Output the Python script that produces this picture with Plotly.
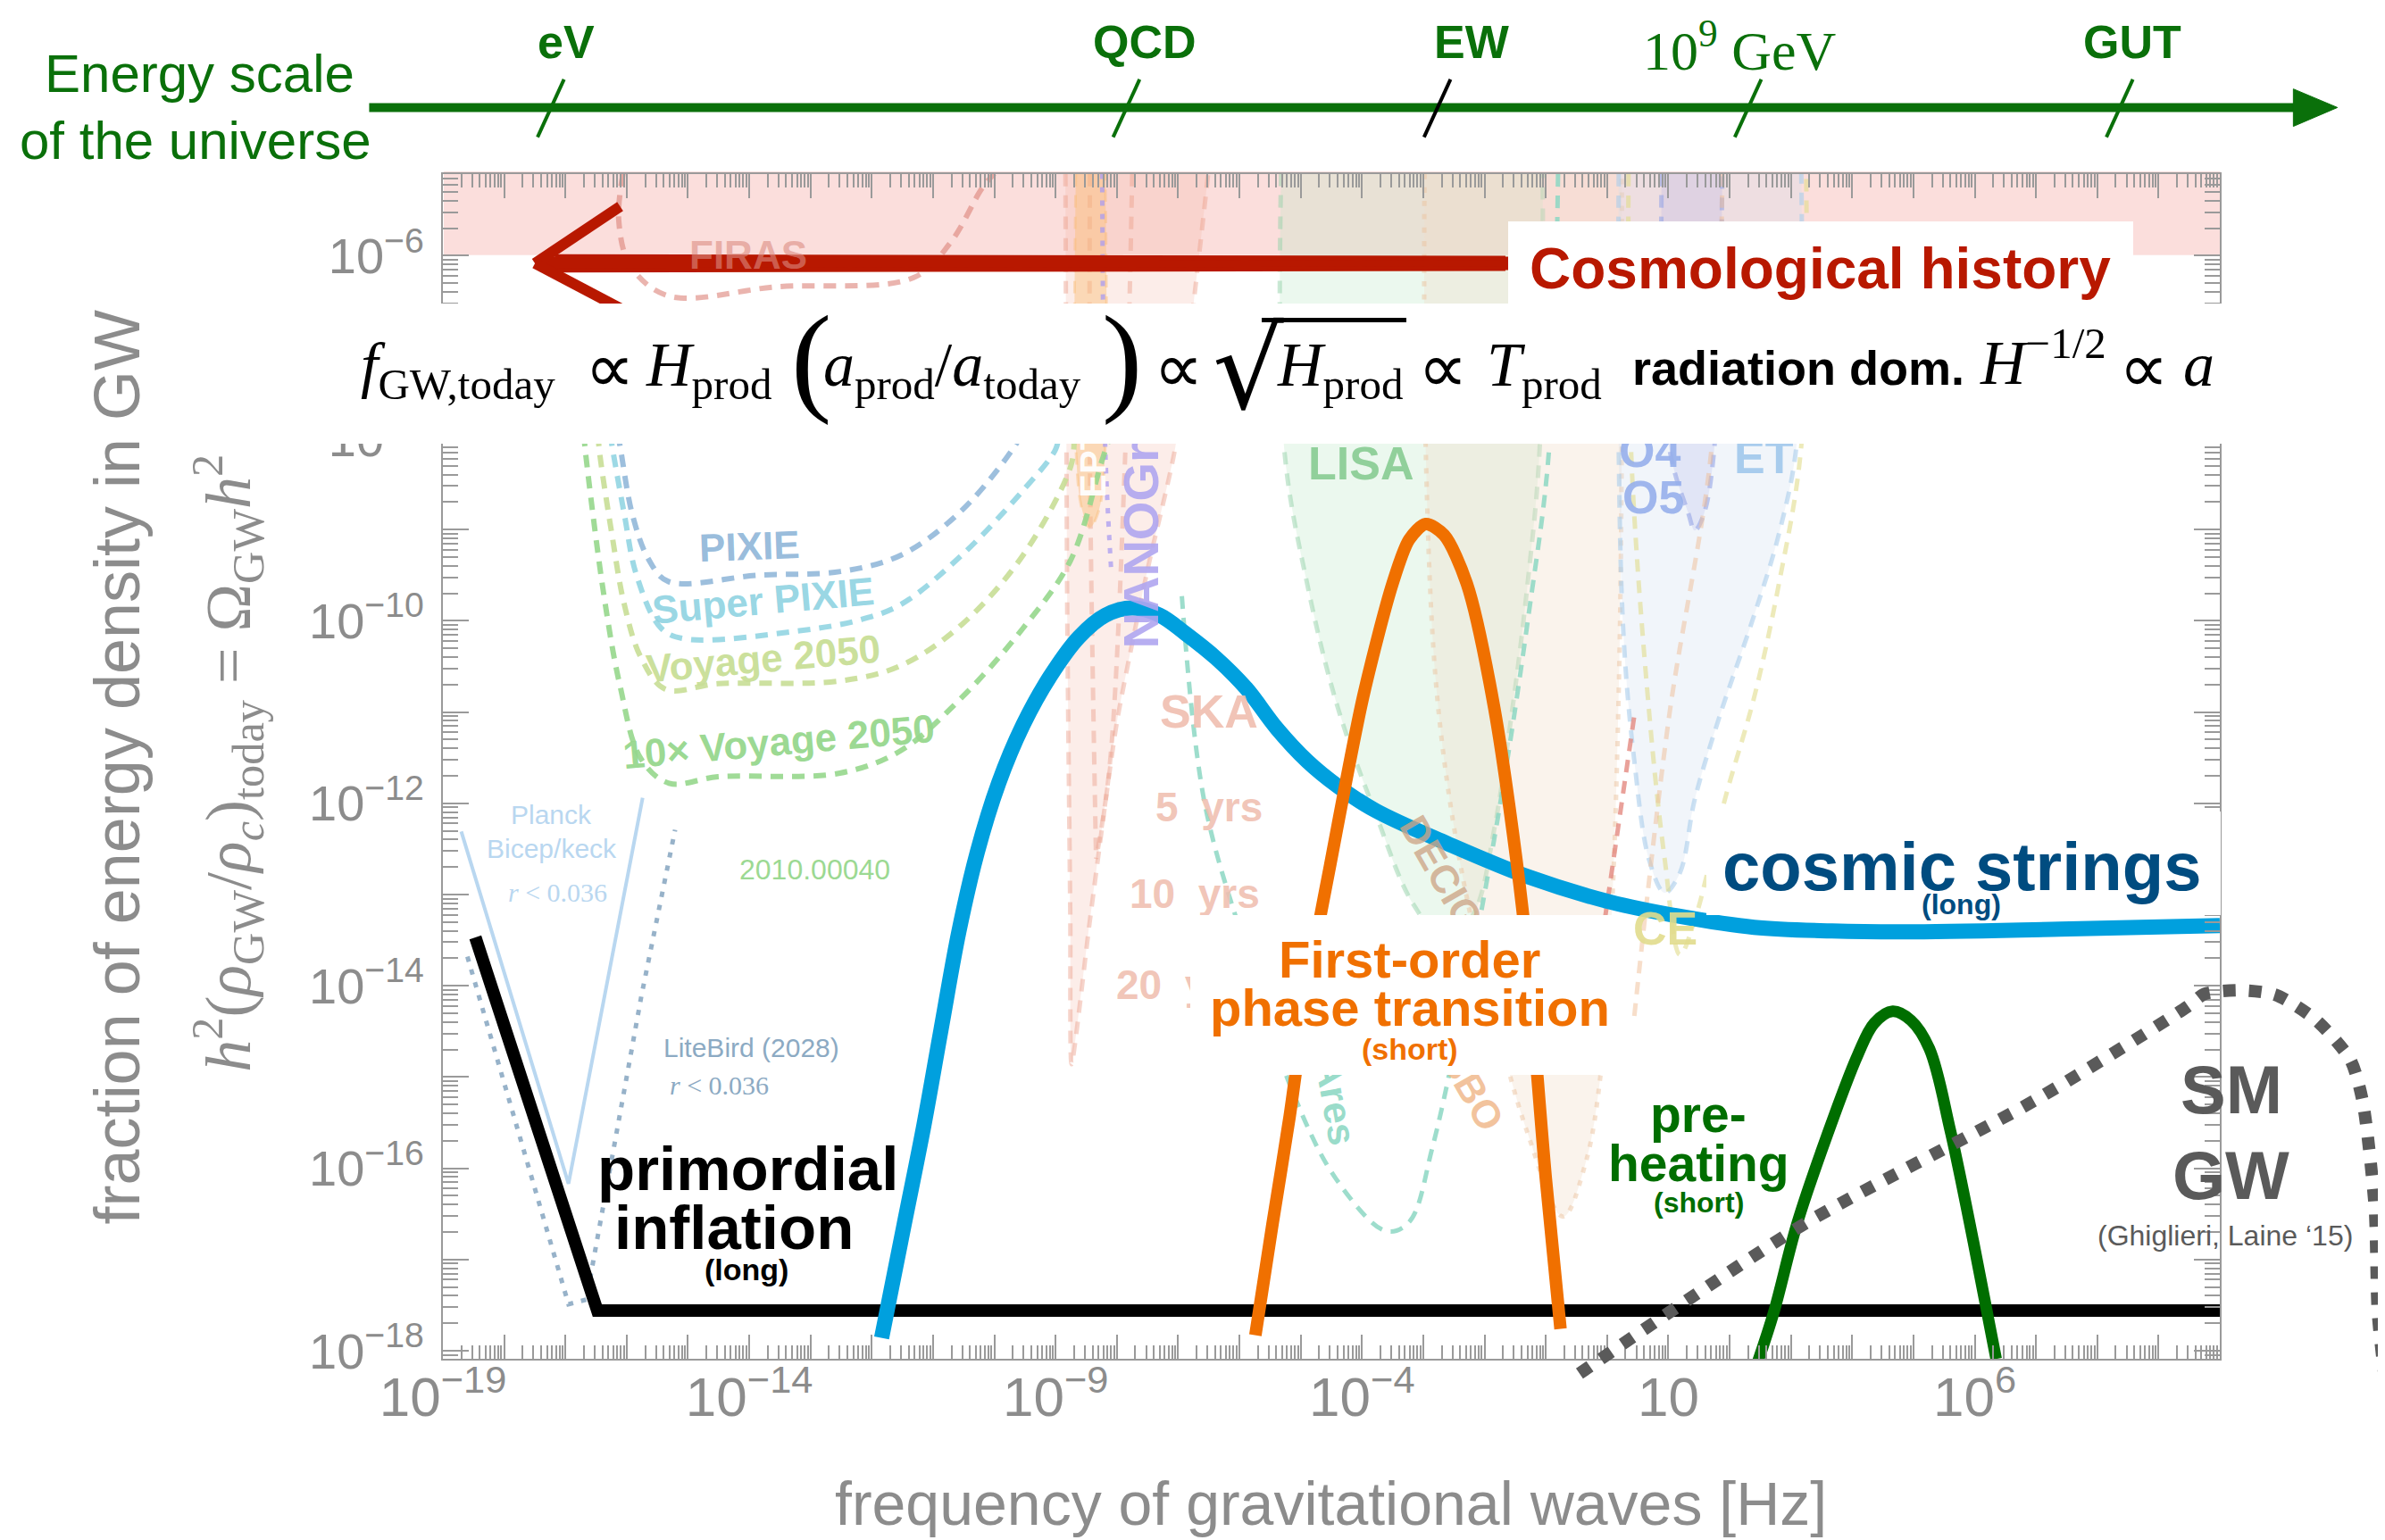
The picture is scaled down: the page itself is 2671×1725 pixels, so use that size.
import plotly.graph_objects as go

# ---------------- data: log10(frequency / Hz), log10(Omega_GW h^2) ----------------
INFL_LF = [-18.47, -16.48, 10.0]
INFL_LO = [-13.47, -17.56, -17.56]

STR_LF = [-11.84, -11.47, -11.15, -10.87, -10.58, -10.28, -9.93, -9.53, -9.09, -8.62,
          -8.19, -7.75, -7.30, -6.88, -6.38, -5.89, -5.39, -4.89, -4.40, -3.78,
          -2.61, -1.27, 0.04, 1.19, 2.40, 3.67, 4.86, 7.39, 10.0]
STR_LO = [-17.86, -16.61, -15.53, -14.48, -13.41, -12.54, -11.78, -11.14, -10.61, -10.18,
          -9.94, -9.86, -9.94, -10.14, -10.41, -10.74, -11.18, -11.54, -11.81, -12.08,
          -12.44, -12.81, -13.08, -13.24, -13.36, -13.40, -13.41, -13.38, -13.34]

PT_LF = [-5.74, -5.46, -5.18, -4.87, -4.52, -3.98, -3.50, -3.23, -2.96, -2.66, -2.29, -1.84, -1.37, -1.00, -0.76]
PT_LO = [-17.83, -16.61, -15.43, -13.94, -12.68, -10.83, -9.59, -9.11, -8.94, -9.06, -9.59, -10.96, -13.23, -16.11, -17.76]

PH_LF = [2.45, 2.72, 3.10, 3.59, 4.09, 4.36, 4.66, 4.96, 5.26, 5.60, 5.98, 6.35]
PH_LO = [-18.14, -17.58, -16.61, -15.64, -14.76, -14.41, -14.28, -14.38, -14.69, -15.58, -16.81, -18.09]

SM_LF = [-0.45, 3.22, 6.97, 9.47, 9.75, 10.34, 10.91, 11.56, 12.13, 12.33, 12.53, 12.58, 12.70]
SM_LO = [-18.25, -16.61, -15.26, -14.23, -14.09, -14.05, -14.10, -14.37, -14.81, -15.26, -16.43, -17.58, -18.34]

# sensitivity curves (faded background)
PIXIE_LF = [-16.15, -16.11, -15.91, -15.64, -15.32, -13.85, -12.51, -11.52, -10.53, -9.66, -9.56]
PIXIE_LO = [-7.95, -8.08, -8.83, -9.33, -9.57, -9.50, -9.46, -9.28, -8.79, -8.08, -7.95]
SPIXIE_LF = [-16.27, -16.24, -16.04, -15.84, -15.44, -15.04, -13.18, -12.19, -11.52, -10.53, -9.53, -9.00, -8.95]
SPIXIE_LO = [-7.95, -8.08, -8.83, -9.50, -10.08, -10.20, -10.11, -9.99, -9.82, -9.28, -8.57, -8.12, -7.95]
VOY_LF = [-16.47, -16.44, -16.24, -16.04, -15.77, -15.37, -14.51, -12.52, -11.52, -10.53, -9.53, -8.75, -8.70]
VOY_LO = [-7.95, -8.17, -9.06, -9.82, -10.40, -10.75, -10.69, -10.66, -10.49, -10.04, -9.28, -8.30, -8.00]
VOY10_LF = [-16.70, -16.67, -16.37, -16.11, -15.77, -15.31, -14.51, -12.52, -11.52, -10.53, -9.53, -8.75, -8.25, -8.10]
VOY10_LO = [-7.95, -8.17, -9.73, -10.71, -11.51, -11.78, -11.71, -11.67, -11.42, -10.84, -10.08, -9.33, -8.26, -7.95]
PLANCK_LF = [-18.70, -16.95, -15.74]
PLANCK_LO = [-12.31, -16.17, -11.94]
LITEBIRD_LF = [-18.60, -16.95, -16.66, -15.76, -15.21]
LITEBIRD_LO = [-13.68, -17.49, -17.44, -14.11, -12.29]
FIRAS_LF = [-16.06, -16.13, -15.94, -15.32, -13.55, -11.32, -10.72, -10.20, -10.00]
FIRAS_LO = [-5.10, -5.61, -6.11, -6.44, -6.34, -6.24, -5.86, -5.26, -5.10]
PTA_LF = [-8.84, -8.81, -8.76, -8.74, -8.44, -8.00, -7.50, -7.05, -6.51]
PTA_LO = [-5.10, -9.94, -13.28, -14.86, -13.28, -11.11, -9.44, -8.11, -5.10]
SKA1_LF = [-8.44, -8.44, -8.34]
SKA1_LO = [-5.10, -8.28, -12.61]
SKA2_LF = [-7.75, -7.87, -8.12, -8.34]
SKA2_LO = [-5.10, -8.28, -11.61, -12.61]
EPTA_LF = [-8.67, -8.67, -8.57, -8.44, -8.29, -8.19, -8.19]
EPTA_LO = [-5.10, -8.11, -8.78, -8.98, -8.78, -8.11, -5.10]
NANO_LF = [-8.24, -8.19, -8.09]
NANO_LO = [-5.10, -8.11, -9.48]
LISA_LF = [-5.32, -5.27, -4.89, -4.40, -3.78, -3.16, -2.59, -2.16, -1.84, -1.54, -1.30, -1.10, -1.05]
LISA_LO = [-5.10, -8.11, -9.61, -10.94, -12.11, -13.11, -13.53, -13.19, -12.28, -10.94, -9.61, -8.11, -5.10]
MUARES_LF = [-6.94, -6.57, -5.89, -5.18, -4.43, -3.60, -3.23, -2.85, -2.30, -1.74, -1.28, -0.95, -0.80]
MUARES_LO = [-9.73, -11.99, -13.61, -15.08, -16.11, -16.69, -16.59, -15.77, -14.05, -11.99, -9.93, -8.15, -5.10]
DEC_LF = [-2.98, -2.96, -2.78, -2.41, -1.92, -1.30, -0.72, -0.35, -0.10, 0.07, 0.19, 0.24, 0.24]
DEC_LO = [-5.10, -8.11, -10.78, -12.61, -14.11, -15.61, -16.53, -15.94, -14.94, -13.28, -10.78, -8.11, -5.10]
ET_LF = [0.19, 0.19, 0.27, 0.44, 0.69, 0.94, 1.19, 1.43, 1.83, 2.40, 2.80, 3.10, 3.17]
ET_LO = [-5.10, -8.11, -10.18, -11.51, -12.63, -12.98, -12.76, -11.96, -11.06, -9.94, -9.06, -8.03, -5.10]
O4_LF = [0.89, 1.01, 1.33, 1.43, 1.58, 1.76, 1.88]
O4_LO = [-5.10, -8.08, -8.83, -9.01, -8.83, -8.03, -5.10]
CE_LF = [0.35, 0.39, 0.69, 0.94, 1.19, 1.43, 1.93, 2.40, 2.80, 3.17, 3.25]
CE_LO = [-5.10, -8.11, -11.03, -12.61, -13.66, -13.28, -11.94, -10.84, -9.61, -8.08, -5.10]
RED_LF = [0.44, -0.18]
RED_LO = [-11.06, -13.94]
PEACH_LF = [1.88, 1.71, 1.01, 0.44]
PEACH_LO = [-5.10, -8.08, -11.06, -14.36]

X_TICK_DECADES = list(range(-19, 11))
X_LABELED = {-19: "10<sup>−19</sup>", -14: "10<sup>−14</sup>", -9: "10<sup>−9</sup>",
             -4: "10<sup>−4</sup>", 1: "10", 6: "10<sup>6</sup>"}
Y_TICK_DECADES = list(range(-18, -5))
Y_LABELED = {k: "10<sup>−%d</sup>" % (-k) for k in range(-18, -5, 2)}

# ---------------- geometry ----------------
S = 1.7035
W, H = 2671, 1725
ML, MR, MT, MB = 488, 5, 187, 150
PW, PH = W - ML - MR, H - MT - MB
PLOT_RIGHT, PLOT_BOTTOM = 2478, 1514
X_RANGE = [-19.0, 10.0]
Y_RANGE = [-18.088, -5.105]
xdom1 = (PLOT_RIGHT - ML) / PW
ydom0 = (H - MB - PLOT_BOTTOM) / PH
xpd = (PLOT_RIGHT - ML) / (X_RANGE[1] - X_RANGE[0])
ypd = (PLOT_BOTTOM - MT) / (Y_RANGE[1] - Y_RANGE[0])
X2_RANGE = [X_RANGE[0], X_RANGE[0] + PW / xpd]
Y2_RANGE = [Y_RANGE[1] - PH / ypd, Y_RANGE[1]]


def PX(d):
    return (d * S - ML) / PW


def PY(d):
    return (H - MB - d * S) / PH


def pw(v):
    return [10.0 ** t for t in v]


SANS = "Liberation Sans, Arial, sans-serif"
SERIF = "Liberation Serif, Times New Roman, serif"
DJS = "DejaVu Sans, sans-serif"
GREY = "#8c8c8c"
EGREEN = "#0a700a"

fig = go.Figure()


def curve(lf, lo, color, width, dash="solid", fillcolor=None, spline=True, axes=("x", "y"), smoothing=1.0):
    line = dict(color=color, width=width, dash=dash)
    if spline:
        line.update(shape="spline", smoothing=smoothing)
    fig.add_trace(go.Scatter(
        x=pw(lf), y=pw(lo), mode="lines", line=line,
        fill="toself" if fillcolor else None, fillcolor=fillcolor,
        xaxis=axes[0], yaxis=axes[1], hoverinfo="skip", showlegend=False))


DASH = "14px,10px"
DOT = "6px,9px"
# background detector sensitivities
curve(PTA_LF, PTA_LO, "rgba(235,160,140,0.45)", 5, DASH, "rgba(240,175,155,0.22)", smoothing=0.6)
curve(SKA1_LF, SKA1_LO, "rgba(235,160,140,0.45)", 5, DASH)
curve(SKA2_LF, SKA2_LO, "rgba(235,160,140,0.45)", 5, DASH)
curve(EPTA_LF, EPTA_LO, "rgba(250,185,110,0.4)", 3, DASH, "rgba(250,190,120,0.45)")
curve(NANO_LF, NANO_LO, "rgba(170,155,240,0.75)", 5, DOT)
curve(LISA_LF, LISA_LO, "rgba(150,210,170,0.5)", 5, DASH, "rgba(190,232,200,0.3)")
curve(DEC_LF, DEC_LO, "rgba(235,195,160,0.5)", 5, DOT, "rgba(240,222,200,0.35)")
curve(ET_LF, ET_LO, "rgba(170,205,235,0.6)", 5, DASH, "rgba(210,222,238,0.3)")
curve(O4_LF, O4_LO, "rgba(150,165,230,0.6)", 5, DASH, "rgba(165,165,230,0.2)")
curve(CE_LF, CE_LO, "rgba(225,220,140,0.6)", 5, DASH)
curve(MUARES_LF, MUARES_LO, "rgba(140,215,195,0.85)", 5, DASH)
curve(RED_LF, RED_LO, "rgba(225,130,120,0.75)", 5, DASH, spline=False)
curve(PEACH_LF, PEACH_LO, "rgba(240,190,150,0.5)", 5, DASH)
curve(FIRAS_LF, FIRAS_LO, "rgba(220,130,120,0.6)", 6, DASH)
curve(PIXIE_LF, PIXIE_LO, "rgba(140,180,215,0.85)", 6, DASH)
curve(SPIXIE_LF, SPIXIE_LO, "rgba(140,210,225,0.85)", 6, DASH)
curve(VOY_LF, VOY_LO, "rgba(200,222,150,0.9)", 6, DASH)
curve(VOY10_LF, VOY10_LO, "rgba(150,215,140,0.9)", 6, DASH)
curve(PLANCK_LF, PLANCK_LO, "rgba(185,215,240,1)", 4, spline=False)
curve(LITEBIRD_LF, LITEBIRD_LO, "rgba(140,170,195,0.9)", 5, DOT, spline=False)

# main signals
curve(INFL_LF, INFL_LO, "#000000", 14, spline=False)
curve(STR_LF, STR_LO, "#00a0de", 17, smoothing=1.0)
curve(PT_LF, PT_LO, "#f07000", 14, smoothing=0.8)
curve(PH_LF, PH_LO, "#006e00", 13, smoothing=1.0)
curve(SM_LF, SM_LO, "#5a5a5a", 14, "14px,15px", axes=("x2", "y2"), smoothing=0.7)

# ---------------- shapes (decoration) ----------------
shapes = []
shapes.append(dict(type="rect", xref="paper", yref="paper", x0=PX(287), x1=PX(1455), y0=PY(163), y1=PY(108),
                   fillcolor="rgba(249,200,196,0.6)", line=dict(width=0), layer="below"))
shapes.append(dict(type="line", xref="paper", yref="paper", x0=PX(238), x1=PX(1508), y0=PY(66), y1=PY(66),
                   line=dict(color=EGREEN, width=10)))
shapes.append(dict(type="path", xref="paper", yref="paper",
                   path="M %f,%f L %f,%f L %f,%f Z" % (PX(1503), PY(53.8), PX(1532), PY(66), PX(1503), PY(78.4)),
                   fillcolor=EGREEN, line=dict(color=EGREEN, width=1)))
for cx, col in [(357.4, EGREEN), (735.8, EGREEN), (940.2, "#000000"), (1144.5, EGREEN), (1388.8, EGREEN)]:
    shapes.append(dict(type="line", xref="paper", yref="paper", x0=PX(cx + 8.7), y0=PY(47.5), x1=PX(cx - 8.7), y1=PY(85.5),
                       line=dict(color=col, width=4)))
RED = "#b81800"
shapes.append(dict(type="line", xref="paper", yref="paper", x0=PX(352), x1=PX(990), y0=PY(168.5), y1=PY(168.5),
                   line=dict(color=RED, width=15)))
shapes.append(dict(type="line", xref="paper", yref="paper", x0=PX(347), y0=PY(168.5), x1=PX(403), y1=PY(131),
                   line=dict(color=RED, width=12)))
shapes.append(dict(type="line", xref="paper", yref="paper", x0=PX(347), y0=PY(168.5), x1=PX(403), y1=PY(198),
                   line=dict(color=RED, width=12)))
shapes.append(dict(type="line", xref="paper", yref="paper", x0=PX(360), x1=PX(985), y0=PY(164), y1=PY(165),
                   line=dict(color=RED, width=5)))
shapes.append(dict(type="line", xref="paper", yref="paper", x0=PX(362), x1=PX(985), y0=PY(173), y1=PY(172),
                   line=dict(color=RED, width=5)))

# ---------------- annotations ----------------
ann = []


def text(t, dx, dy, size, color, bold=False, angle=0, family=SANS, xanchor="center", yanchor="middle"):
    ann.append(dict(text=("<b>%s</b>" % t) if bold else t, x=PX(dx), y=PY(dy), xref="paper", yref="paper",
                    showarrow=False, textangle=angle, xanchor=xanchor, yanchor=yanchor,
                    font=dict(size=size, color=color, family=family), borderpad=0))


def wbox(dx0, dy0, dx1, dy1, color="white"):
    ann.append(dict(text=" ", x=PX((dx0 + dx1) / 2), y=PY((dy0 + dy1) / 2), xref="paper", yref="paper",
                    showarrow=False, xanchor="center", yanchor="middle", width=(dx1 - dx0) * S,
                    height=(dy1 - dy0) * S, bgcolor=color, borderpad=0, borderwidth=0, font=dict(size=4)))


text("PIXIE", 488, 354, 44, "rgba(140,180,215,0.9)", True, -2)
text("Super PIXIE", 497, 390, 44, "rgba(140,210,225,0.9)", True, -5)
text("Voyage 2050", 497, 428, 44, "rgba(200,222,150,0.95)", True, -5)
text("10× Voyage 2050", 507, 483, 44, "rgba(150,215,140,0.95)", True, -5)
text("2010.00040", 531, 567, 32, "rgba(150,215,140,0.95)")
text("Planck", 358, 531, 30, "rgba(185,215,240,1)")
text("Bicep/keck", 358, 553, 30, "rgba(185,215,240,1)")
text("<i>r</i> &lt; 0.036", 362, 582, 30, "rgba(185,215,240,1)", family=SERIF)
text("LiteBird (2028)", 489, 684, 30, "rgba(140,170,195,1)")
text("<i>r</i> &lt; 0.036", 468, 709, 30, "rgba(140,170,195,1)", family=SERIF)
text("FIRAS", 487, 163, 44, "rgba(220,140,130,0.6)", True)
text("EPTA", 714, 292, 40, "rgba(255,255,255,0.95)", True, -90)
text("NANOGrav", 745, 336, 56, "rgba(175,165,240,0.9)", True, -90)
text("SKA", 790, 463, 52, "rgba(240,190,175,0.9)", True)
text("5  yrs", 790, 526, 46, "rgba(240,190,175,0.9)", True)
text("10  yrs", 781, 583, 46, "rgba(240,190,175,0.9)", True)
text("20  yrs", 772, 643, 46, "rgba(240,190,175,0.9)", True)
text("LISA", 890, 300, 52, "rgba(140,205,150,0.95)", True)
text("μAres", 872, 712, 44, "rgba(140,215,195,0.9)", True, 80)
text("DECIGO", 948, 578, 44, "rgba(205,165,135,0.8)", True, 60)
text("BBO", 963, 712, 44, "rgba(240,185,140,0.85)", True, 60)
text("O4", 1080, 292, 52, "rgba(150,175,235,0.9)", True)
text("O5", 1082, 322, 52, "rgba(150,175,235,0.9)", True)
text("ET", 1155, 296, 52, "rgba(160,200,235,0.9)", True)
text("CE", 1090, 606, 52, "rgba(225,220,140,0.9)", True)

wbox(200, 195, 1462, 287)
wbox(987, 141, 1398, 195)
wbox(1117, 529, 1455, 597)
wbox(778, 597, 1062, 702)
wbox(825, 204, 920, 207, "black")

text("Energy scale", 126.5, 44, 60, EGREEN)
text("of the universe", 124, 88, 60, EGREEN)
text("eV", 367.5, 23, 52, EGREEN, True)
text("QCD", 748, 23, 52, EGREEN, True)
text("EW", 963, 23, 52, EGREEN, True)
text("GUT", 1397, 23, 52, EGREEN, True)
text("10<sup>9</sup> GeV", 1139, 26, 62, EGREEN, family=SERIF)

FT = 211.9
text("<i>f</i><sub>GW,today</sub>", 232, FT, 70, "black", family=SERIF, xanchor="left", yanchor="top")
text("∝", 379, 210, 78, "black", family=DJS, xanchor="left", yanchor="top")
text("<i>H</i><sub>prod</sub>", 419, FT, 70, "black", family=SERIF, xanchor="left", yanchor="top")
text("(", 515, 186, 136, "black", family=SERIF, xanchor="left", yanchor="top")
text("<i>a</i><sub>prod</sub>/<i>a</i><sub>today</sub>", 536, FT, 70, "black", family=SERIF, xanchor="left", yanchor="top")
text(")", 719, 186, 136, "black", family=SERIF, xanchor="left", yanchor="top")
text("∝", 753, 210, 78, "black", family=DJS, xanchor="left", yanchor="top")
text("√", 792, 195, 125, "black", family=DJS, xanchor="left", yanchor="top")
text("<i>H</i><sub>prod</sub>", 834, FT, 70, "black", family=SERIF, xanchor="left", yanchor="top")
text("∝", 927, 210, 78, "black", family=DJS, xanchor="left", yanchor="top")
text("<i>T</i><sub>prod</sub>", 972, FT, 70, "black", family=SERIF, xanchor="left", yanchor="top")
text("<b>radiation dom.</b>", 1068, 218.7, 54, "black", xanchor="left", yanchor="top")
text("<i>H</i><sup>−1/2</sup>", 1296, 257.4, 70, "black", family=SERIF, xanchor="left", yanchor="bottom")
text("∝", 1388, 210, 78, "black", family=DJS, xanchor="left", yanchor="top")
text("<i>a</i>", 1430, FT, 70, "black", family=SERIF, xanchor="left", yanchor="top")

text("Cosmological history", 1192, 172, 64, RED, True)
text("primordial", 487, 764, 69, "black", True)
text("inflation", 478, 803, 69, "black", True)
text("(long)", 486, 830, 34, "black", True)
text("cosmic strings", 1285, 565, 76, "#004c80", True)
text("(long)", 1285, 590, 32, "#004c80", True)
text("First-order", 922, 626, 58, "#f07000", True)
text("phase transition", 922, 658, 58, "#f07000", True)
text("(short)", 922, 685, 34, "#f07000", True)
text("pre-", 1112, 728, 57, "#006e00", True)
text("heating", 1112, 760, 57, "#006e00", True)
text("(short)", 1112, 786, 32, "#006e00", True)
text("SM", 1462, 712, 76, "#5a5a5a", True)
text("GW", 1462, 768, 76, "#5a5a5a", True)
text("(Ghiglieri, Laine ‘15)", 1458, 808, 32, "#5a5a5a")

text("fraction of energy density in GW", 72, 500, 72, GREY, angle=-90)
text("<i>h</i><sup>2</sup>(<i>ρ</i><sub>GW</sub>/<i>ρ<sub>c</sub></i>)<sub>today</sub> = Ω<sub>GW</sub><i>h</i><sup>2</sup>",
     145, 497, 72, GREY, angle=-90, family=SERIF)
text("frequency of gravitational waves [Hz]", 870, 984, 68, GREY)

# ---------------- axes ----------------
AX = "#9a9a9a"
common = dict(type="log", showgrid=False, zeroline=False, showline=True, linecolor=AX, linewidth=2,
              mirror="ticks", ticks="inside", tickcolor=AX, tickwidth=2, tickmode="array")
xaxis = dict(common, range=X_RANGE, domain=[0, xdom1], anchor="y",
             tickvals=[10.0 ** k for k in X_TICK_DECADES],
             ticktext=[X_LABELED.get(k, "") for k in X_TICK_DECADES],
             ticklen=27, ticklabelstandoff=-12,
             tickfont=dict(family=SANS, size=62, color=GREY),
             minor=dict(ticks="inside", ticklen=15, tickcolor=AX, tickwidth=2, dtick="D1", showgrid=False))
yaxis = dict(common, range=Y_RANGE, domain=[ydom0, 1], anchor="x",
             tickvals=[10.0 ** k for k in Y_TICK_DECADES],
             ticktext=[Y_LABELED.get(k, "") for k in Y_TICK_DECADES],
             ticklen=29, ticklabelstandoff=8,
             tickfont=dict(family=SANS, size=56, color=GREY),
             minor=dict(ticks="inside", ticklen=17, tickcolor=AX, tickwidth=2, dtick="D1", showgrid=False))

fig.update_layout(
    width=W, height=H,
    margin=dict(l=ML, r=MR, t=MT, b=MB, pad=0, autoexpand=False),
    paper_bgcolor="white", plot_bgcolor="rgba(0,0,0,0)", showlegend=False,
    xaxis=xaxis, yaxis=yaxis,
    xaxis2=dict(type="log", range=X2_RANGE, domain=[0, 1], anchor="y2", visible=False),
    yaxis2=dict(type="log", range=Y2_RANGE, domain=[0, 1], anchor="x2", visible=False),
    shapes=shapes, annotations=ann,
)

fig.write_html("out.html")
